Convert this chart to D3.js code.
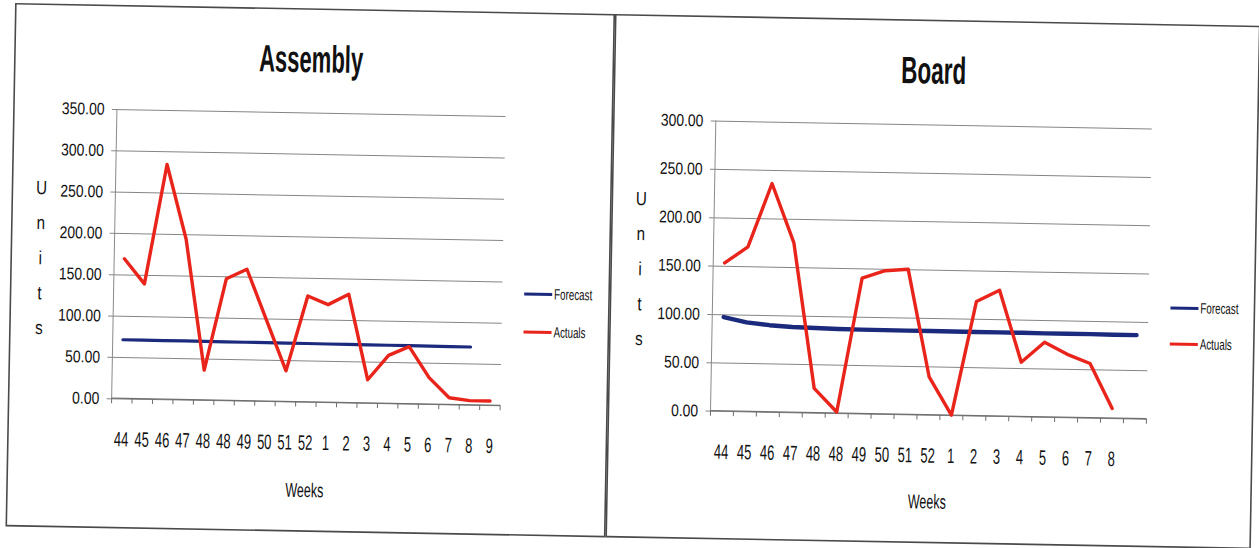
<!DOCTYPE html>
<html>
<head>
<meta charset="utf-8">
<script src="https://cdn.jsdelivr.net/npm/d3@7"></script>
<style>
  html, body { margin: 0; padding: 0; background: #ffffff; }
  svg { display: block; }
  text { font-family: "Liberation Sans", Arial, sans-serif; fill: #111; }
</style>
</head>
<body>
<svg id="chart" width="1259" height="548"></svg>
<script>
// Week labels (the production year rolls over after week 52)
const assemblyWeeks = ["44","45","46","47","48","48","49","50","51","52","1","2","3","4","5","6","7","8","9"];
const boardWeeks    = ["44","45","46","47","48","48","49","50","51","52","1","2","3","4","5","6","7","8",""];

// Units per week
const assemblyActuals  = [169, 139, 284, 194, 36, 147, 159, 98, 37, 128, 118, 131, 28, 58, 69, 32, 8, 5, 5];
const assemblyForecast = [71.0, 71.0, 70.9, 70.9, 70.8, 70.7, 70.7, 70.6, 70.5, 70.5, 70.4, 70.3, 70.3, 70.2, 70.1, 70.0, 70.0, 69.9];

const boardActuals  = [153, 170, 236, 175, 25, 1, 140, 148, 150, 39, 0, 118, 130, 56, 77, 65, 56, 10];
const boardForecast = [97, 92, 89.5, 88, 87.5, 86.8, 86.6, 86.6, 86.5, 86.5, 86.5, 86.4, 86.4, 86.4, 86.3, 86.3, 86.3, 86.2, 86.2];

// Value-axis ticks
const assemblyTicks = [0, 50, 100, 150, 200, 250, 300, 350];
const boardTicks    = [0, 50, 100, 150, 200, 250, 300];

const seriesNames = ["Forecast", "Actuals"];
const seriesColors = { Forecast: "#1b2a7c", Actuals: "#e8241b" };

const svg = d3.select("#chart");
// the sheet sits slightly askew on the page
const page = svg.append("g").attr("transform", "rotate(1.05 630 274)");

const panels = [
  {
    title: "Assembly", titleLen: 104,
    box: { x: 11, y: 15, w: 598.5, h: 522 },
    plot: { x: 114, y: 118.4, w: 388.6, h: 289.3 },
    weeks: assemblyWeeks, actuals: assemblyActuals, forecast: assemblyForecast,
    ticks: assemblyTicks, forecastWidth: 3.2, legendY: [296, 334]
  },
  {
    title: "Board", titleLen: 65,
    box: { x: 611, y: 15, w: 644, h: 522 },
    plot: { x: 713, y: 119, w: 436, h: 290.2 },
    weeks: boardWeeks, actuals: boardActuals, forecast: boardForecast,
    ticks: boardTicks, forecastWidth: 4.4, legendY: [298, 334]
  }
];

panels.forEach(p => {
  const g = page.append("g");

  // chart area border
  g.append("rect")
    .attr("x", p.box.x).attr("y", p.box.y)
    .attr("width", p.box.w).attr("height", p.box.h)
    .attr("fill", "#fff").attr("stroke", "#4a4a4a").attr("stroke-width", 1.6);

  const plot = g.append("g").attr("transform", `translate(${p.plot.x},${p.plot.y})`);
  const W = p.plot.w, H = p.plot.h;

  const x = d3.scaleBand().domain(d3.range(p.weeks.length)).range([0, W]);
  const y = d3.scaleLinear().domain([0, d3.max(p.ticks)]).range([H, 0]);

  // horizontal gridlines + value labels
  const yAxis = d3.axisLeft(y).tickValues(p.ticks).tickFormat(d3.format(".2f"))
    .tickSize(-(W + 5)).tickPadding(9);
  const ya = plot.append("g").attr("transform", "translate(-5,0)").call(yAxis);
  ya.select(".domain").remove();
  ya.selectAll(".tick line").attr("stroke", "#858585").attr("stroke-width", 1);
  ya.selectAll(".tick text").attr("font-size", 17).attr("fill", "#111")
    .attr("font-family", "Liberation Sans, Arial, sans-serif")
    .attr("transform", "scale(0.82,1)");

  // vertical axis line
  plot.append("line").attr("x1", 0).attr("x2", 0).attr("y1", 0).attr("y2", H)
    .attr("stroke", "#8a8a8a").attr("stroke-width", 1);

  // category axis: tick marks on band boundaries
  const boundaries = d3.range(p.weeks.length + 1).map(i => i * x.step());
  const xg = plot.append("g").attr("transform", `translate(0,${H})`);
  xg.append("line").attr("x1", 0).attr("x2", W).attr("y1", 0).attr("y2", 0)
    .attr("stroke", "#6f6f6f").attr("stroke-width", 1.2);
  xg.selectAll("line.tk").data(boundaries).join("line").attr("class", "tk")
    .attr("x1", d => d).attr("x2", d => d).attr("y1", 0).attr("y2", 5)
    .attr("stroke", "#6f6f6f").attr("stroke-width", 1);

  const xAxis = d3.axisBottom(x).tickSize(0).tickPadding(0).tickFormat(i => p.weeks[i]);
  const xa = plot.append("g").attr("transform", `translate(0,${H})`).call(xAxis);
  xa.select(".domain").remove();
  xa.selectAll(".tick text")
    .attr("dy", null).attr("y", 48)
    .attr("font-size", 21).attr("fill", "#111")
    .attr("font-family", "Liberation Sans, Arial, sans-serif")
    .attr("transform", "scale(0.62,1)");

  const cx = i => x(i) + x.bandwidth() / 2;

  // forecast and actual series
  const line = d3.line().x((d, i) => cx(i)).y(d => y(d));
  plot.append("path").datum(p.forecast)
    .attr("d", line).attr("fill", "none")
    .attr("stroke", seriesColors.Forecast).attr("stroke-width", p.forecastWidth)
    .attr("stroke-linejoin", "round").attr("stroke-linecap", "round");
  plot.append("path").datum(p.actuals)
    .attr("d", line).attr("fill", "none")
    .attr("stroke", seriesColors.Actuals).attr("stroke-width", 3.4)
    .attr("stroke-linejoin", "round").attr("stroke-linecap", "round");

  // title
  g.append("text")
    .attr("x", p.plot.x + W / 2 - 1).attr("y", 78)
    .attr("text-anchor", "middle").attr("font-size", 38).attr("font-weight", "bold")
    .attr("textLength", p.titleLen).attr("lengthAdjust", "spacingAndGlyphs")
    .text(p.title);

  // stacked value-axis title
  const unitX = p.box.x + 29;
  g.selectAll("text.units").data("Units".split("")).join("text").attr("class", "units")
    .attr("transform", (d, i) => `translate(${unitX},${205 + i * 35}) scale(0.8,1)`)
    .attr("text-anchor", "middle").attr("font-size", 19)
    .text(d => d);

  // category-axis title
  g.append("text")
    .attr("x", p.plot.x + W / 2).attr("y", 503)
    .attr("text-anchor", "middle").attr("font-size", 20)
    .attr("textLength", 38).attr("lengthAdjust", "spacingAndGlyphs")
    .text("Weeks");

  // legend
  const lx = p.plot.x + W + 22;
  const leg = g.selectAll("g.leg").data(seriesNames).join("g").attr("class", "leg")
    .attr("transform", (d, i) => `translate(${lx},${p.legendY[i]})`);
  leg.append("line").attr("x1", 0).attr("x2", 28).attr("y1", 0).attr("y2", 0)
    .attr("stroke", d => seriesColors[d]).attr("stroke-width", 3);
  leg.append("text").attr("x", 30).attr("y", 5).attr("font-size", 15)
    .attr("textLength", d => d === "Forecast" ? 38 : 32).attr("lengthAdjust", "spacingAndGlyphs")
    .text(d => d);
});
</script>
</body>
</html>
